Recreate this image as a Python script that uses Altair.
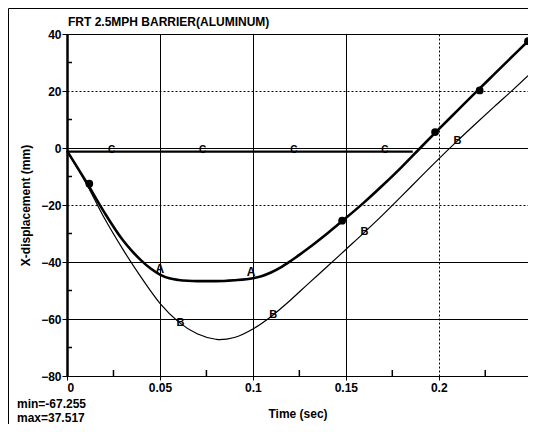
import altair as alt
import pandas as pd

# ---- data ----
t_grid = [0, 0.01, 0.02, 0.03, 0.035, 0.04, 0.045, 0.05, 0.055, 0.06, 0.065, 0.07, 0.08, 0.09,
          0.1, 0.105, 0.11, 0.115, 0.12, 0.125, 0.13, 0.14, 0.15, 0.16, 0.17, 0.18, 0.19, 0.2,
          0.21, 0.22, 0.23, 0.24, 0.248]
curve_a = [-1, -11.5, -22.5, -32.3, -36.2, -39.5, -42.3, -44.4, -45.7, -46.3, -46.6, -46.7, -46.7,
           -46.4, -45.7, -44.9, -43.6, -41.9, -39.8, -37.5, -35.1, -30, -24.6, -19, -13, -6.7, 0,
           6.6, 13.1, 19.6, 26, 32.4, 37.5]
t_b = [0, 0.01, 0.02, 0.03, 0.04, 0.05, 0.06, 0.07, 0.08, 0.082, 0.09, 0.1, 0.11, 0.12,
       0.13, 0.14, 0.15, 0.16, 0.17, 0.18, 0.19, 0.2, 0.21, 0.22, 0.23, 0.24, 0.248]
curve_b = [-1, -12, -24.5, -35.5, -45.5, -54.5, -61, -65.2, -67.1, -67.255, -66.5, -63.5, -59,
           -53.5, -47.5, -41.6, -35.6, -29.6, -23.4, -16.9, -10.3, -3.8, 2.5, 8.6, 14.6, 20.5, 25.4]
t_c = [0, 0.186]
curve_c = [-1.3, -1.3]

# markers
a_dot_t = [0.012, 0.148, 0.198, 0.222, 0.248]
a_dot_y = [-12.5, -25.5, 5.6, 20.2, 37.5]
a_lbl_t = [0.05, 0.099]
a_lbl_y = [-44.4, -45.7]
b_lbl_t = [0.061, 0.111, 0.16, 0.21]
b_lbl_y = [-61.4, -58.5, -29.6, 2.5]
c_lbl_t = [0.024, 0.073, 0.122, 0.171]
c_lbl_y = [-1.3, -1.3, -1.3, -1.3]

x_ticks = [0, 0.05, 0.1, 0.15, 0.2]
x_minor = [0.025, 0.075, 0.125, 0.175, 0.225]
y_ticks = [-80, -60, -40, -20, 0, 20, 40]
y_minor = [-70, -50, -30, -10, 10, 30]

title_text = "FRT 2.5MPH BARRIER(ALUMINUM)"
x_title = "Time (sec)"
y_title = "X-displacement (mm)"
min_text = "min=-67.255"
max_text = "max=37.517"

FONT = "Liberation Sans"
W, H = 461, 342

xs = alt.Scale(domain=[0, 0.248], nice=False, zero=False)
ys = alt.Scale(domain=[-80, 40], nice=False, zero=False)

xaxis = alt.Axis(values=x_ticks, format="~g", grid=True, gridColor="black", gridOpacity=1,
                 gridWidth=1,
                 gridDash={"condition": {"test": "datum.value == 0.2", "value": [2, 2]}, "value": []},
                 domain=False, tickColor="black", tickSize=4, labelFont=FONT, labelFontSize=12,
                 labelFontWeight="bold", labelColor="black", labelPadding=2,
                 title=x_title, titleFont=FONT, titleFontSize=12, titleFontWeight="bold",
                 titleColor="black", titlePadding=15)
yaxis = alt.Axis(values=y_ticks, grid=True, gridColor="black", gridOpacity=1, gridWidth=1,
                 gridDash={"condition": {"test": "datum.value == 20 || datum.value == -20",
                                         "value": [2, 2]}, "value": []},
                 domain=True, domainColor="black", domainWidth=2.5, tickColor="black", tickSize=5,
                 labelFont=FONT, labelFontSize=12, labelFontWeight="bold", labelColor="black",
                 labelPadding=1,
                 title=y_title, titleFont=FONT, titleFontSize=12, titleFontWeight="bold",
                 titleColor="black", titlePadding=8)

df_a = pd.DataFrame({"t": t_grid, "y": curve_a})
df_b = pd.DataFrame({"t": t_b, "y": curve_b})
df_c = pd.DataFrame({"t": t_c, "y": curve_c})

base_x = alt.X("t:Q", scale=xs, axis=xaxis)
base_y = alt.Y("y:Q", scale=ys, axis=yaxis)

line_c = alt.Chart(df_c).mark_line(color="black", strokeWidth=2.2).encode(x=base_x, y=base_y)
line_b = alt.Chart(df_b).mark_line(color="black", strokeWidth=1.2, interpolate="monotone").encode(
    x=alt.X("t:Q", scale=xs), y=alt.Y("y:Q", scale=ys))
line_a = alt.Chart(df_a).mark_line(color="black", strokeWidth=2.6, interpolate="monotone").encode(
    x=alt.X("t:Q", scale=xs), y=alt.Y("y:Q", scale=ys))

dots = alt.Chart(pd.DataFrame({"t": a_dot_t, "y": a_dot_y})).mark_point(
    shape="circle", filled=True, color="black", size=60, opacity=1).encode(
    x=alt.X("t:Q", scale=xs), y=alt.Y("y:Q", scale=ys))

a_lbl = alt.Chart(pd.DataFrame({"t": a_lbl_t, "y": a_lbl_y})).mark_text(
    text="A", font=FONT, fontSize=12, fontWeight="bold", color="black", baseline="bottom", dy=1).encode(
    x=alt.X("t:Q", scale=xs), y=alt.Y("y:Q", scale=ys))
b_lbl = alt.Chart(pd.DataFrame({"t": b_lbl_t, "y": b_lbl_y})).mark_text(
    text="B", font=FONT, fontSize=11, fontWeight="bold", color="black", baseline="middle").encode(
    x=alt.X("t:Q", scale=xs), y=alt.Y("y:Q", scale=ys))
c_lbl = alt.Chart(pd.DataFrame({"t": c_lbl_t, "y": c_lbl_y})).mark_text(
    text="C", font=FONT, fontSize=10, fontWeight="bold", color="black", baseline="bottom", dy=3).encode(
    x=alt.X("t:Q", scale=xs), y=alt.Y("y:Q", scale=ys))

ymin_ticks = alt.Chart(pd.DataFrame({"y": y_minor})).mark_rule(color="black", strokeWidth=1.5).encode(
    x=alt.value(0), x2=alt.value(5), y=alt.Y("y:Q", scale=ys))
xmin_ticks = alt.Chart(pd.DataFrame({"t": x_minor})).mark_rule(color="black", strokeWidth=1.5).encode(
    x=alt.X("t:Q", scale=xs), y=alt.value(H), y2=alt.value(H - 6))

def note(txt, x, y, size):
    return alt.Chart(pd.DataFrame({"k": [0]})).mark_text(
        font=FONT, fontSize=size, fontWeight="bold", color="black", align="left", baseline="middle",
        text=txt).encode(x=alt.value(x), y=alt.value(y))

title_mark = note(title_text, 1, -12, 12)
note_min = note(min_text, -50, 370, 12)
note_max = note(max_text, -50, 384, 12)

frame = alt.Chart(pd.DataFrame({"k": [0]})).mark_rect(
    fill=None, stroke="black", strokeWidth=1).encode(
    x=alt.value(-58.5), x2=alt.value(480), y=alt.value(-25.5), y2=alt.value(420))

chart = alt.layer(frame, line_c, line_b, line_a, dots, a_lbl, b_lbl, c_lbl, ymin_ticks, xmin_ticks,
                  title_mark, note_min, note_max).properties(
    width=W, height=H,
    autosize=alt.AutoSizeParams(type="none"),
    padding={"left": 59, "top": 26, "right": 0, "bottom": 48},
).configure_view(stroke="black", strokeWidth=1.5).configure(background="white")

chart.save("out.html", embed_options={"renderer": "svg", "actions": False})
